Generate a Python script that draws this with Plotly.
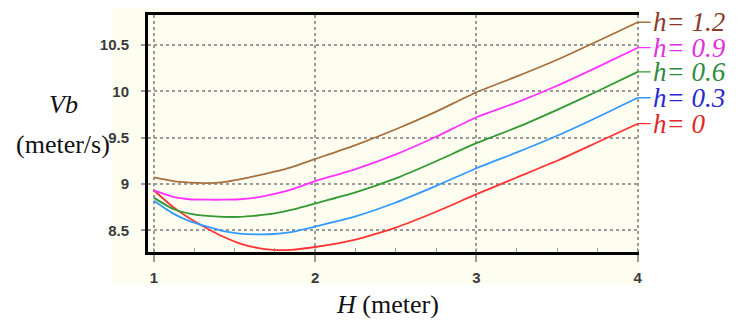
import plotly.graph_objects as go

# ---- data ----
H = [1.0, 1.12, 1.22, 1.33, 1.43, 1.53, 1.64, 1.74, 1.85, 2.0, 2.25, 2.5, 2.75, 3.0, 3.25, 3.5, 3.75, 4.0]

vb_h0 = [8.93, 8.75, 8.63, 8.52, 8.43, 8.36, 8.31, 8.29, 8.29, 8.32, 8.40, 8.53, 8.70, 8.89, 9.07, 9.25, 9.45, 9.65]
vb_h03 = [8.82, 8.68, 8.60, 8.54, 8.49, 8.465, 8.457, 8.46, 8.48, 8.54, 8.65, 8.80, 8.98, 9.17, 9.34, 9.52, 9.72, 9.93]
vb_h06 = [8.85, 8.73, 8.68, 8.655, 8.645, 8.645, 8.66, 8.68, 8.72, 8.79, 8.91, 9.06, 9.245, 9.44, 9.61, 9.80, 10.00, 10.21]
vb_h09 = [8.93, 8.86, 8.835, 8.83, 8.83, 8.835, 8.855, 8.89, 8.94, 9.03, 9.16, 9.32, 9.51, 9.72, 9.88, 10.06, 10.26, 10.47]
vb_h12 = [9.07, 9.03, 9.015, 9.01, 9.02, 9.05, 9.09, 9.13, 9.18, 9.27, 9.42, 9.59, 9.78, 9.99, 10.16, 10.34, 10.54, 10.745]

series_labels = ["h= 0", "h= 0.3", "h= 0.6", "h= 0.9", "h= 1.2"]
series_values = [vb_h0, vb_h03, vb_h06, vb_h09, vb_h12]
line_colors = ["#ff3333", "#3399ff", "#339933", "#ff33ff", "#a8703f"]
text_colors = ["#e02828", "#2a2ad0", "#2e8b3e", "#e030e0", "#8b3a2a"]

x_ticks = [1, 2, 3, 4]
y_ticks = [8.5, 9, 9.5, 10, 10.5]
y_tick_text = ["8.5", "9", "9.5", "10", "10.5"]

BG = "#fefef0"

W, Hh = 745, 327
ml, mr, mt, mb = 148, 106, 12, 75
pw, ph = W - ml - mr, Hh - mt - mb


def px2paper(px, py):
    return (px - ml) / pw, (Hh - mb - py) / ph


fig = go.Figure()
for lab, vals, lc in zip(series_labels, series_values, line_colors):
    fig.add_trace(go.Scatter(x=H, y=vals, mode="lines", name=lab,
                             line=dict(color=lc, width=1.8, shape="spline", smoothing=0.5)))

# right-hand labels with short leader dashes
for lab, vals, lc, tc in zip(series_labels, series_values, line_colors, text_colors):
    fig.add_annotation(x=H[-1], y=vals[-1], xref="x", yref="y",
                       text="<i>" + lab + "</i>", showarrow=True, arrowhead=0,
                       arrowwidth=1.3, arrowcolor=lc, ax=13, ay=0,
                       xanchor="left", yanchor="middle",
                       font=dict(family="Liberation Serif", size=27, color=tc))

title_font = dict(family="Liberation Serif", size=26, color="#111")
for txt, (px, py) in [("<i>Vb</i>", (63, 103)), ("(meter/s)", (63, 143)),
                      ("<i>H</i> (meter)", (387, 305))]:
    xx, yy = px2paper(px, py)
    fig.add_annotation(x=xx, y=yy, xref="paper", yref="paper", text=txt,
                       showarrow=False, xanchor="center", yanchor="middle",
                       font=title_font)

# yellowish panel behind plot and tick labels
x0, y0 = px2paper(112, 285)
x1, y1 = px2paper(640, 5)
fig.add_shape(type="rect", xref="paper", yref="paper", x0=x0, y0=y0, x1=x1, y1=y1,
              fillcolor=BG, line=dict(width=0), layer="below")

fig.update_layout(
    width=W, height=Hh,
    margin=dict(l=ml, r=mr, t=mt, b=mb),
    paper_bgcolor="white", plot_bgcolor=BG,
    showlegend=False,
    font=dict(family="Liberation Sans", size=15, color="#3a3a3a"),
)
tickfont = dict(family="Liberation Sans", size=15, color="#3a3a3a", weight="bold")
fig.update_xaxes(range=[0.963, 4.008], tickvals=x_ticks, ticktext=[str(v) for v in x_ticks],
                 showgrid=True, gridcolor="#9a9a9a", gridwidth=1.5, griddash="3px,3px",
                 zeroline=False, showline=True, linecolor="black", linewidth=3, mirror=True,
                 ticks="outside", ticklen=7, tickcolor="#9a9a9a", tickwidth=1.5,
                 ticklabelstandoff=3, tickfont=tickfont,
                 minor=dict(dtick=0.25, tick0=1, ticks="inside", ticklen=4,
                            tickcolor="#9a9a9a", tickwidth=1.2))
fig.update_yaxes(range=[8.266, 10.823], tickvals=y_ticks, ticktext=y_tick_text,
                 showgrid=True, gridcolor="#9a9a9a", gridwidth=1.5, griddash="3px,3px",
                 zeroline=False, showline=True, linecolor="black", linewidth=3, mirror=False,
                 ticks="outside", ticklen=4, tickcolor="#9a9a9a", tickwidth=1.5,
                 ticklabelstandoff=9, tickfont=tickfont)

fig.write_html("out.html", config={"displayModeBar": False},
               post_script="document.body.style.margin='0';")
